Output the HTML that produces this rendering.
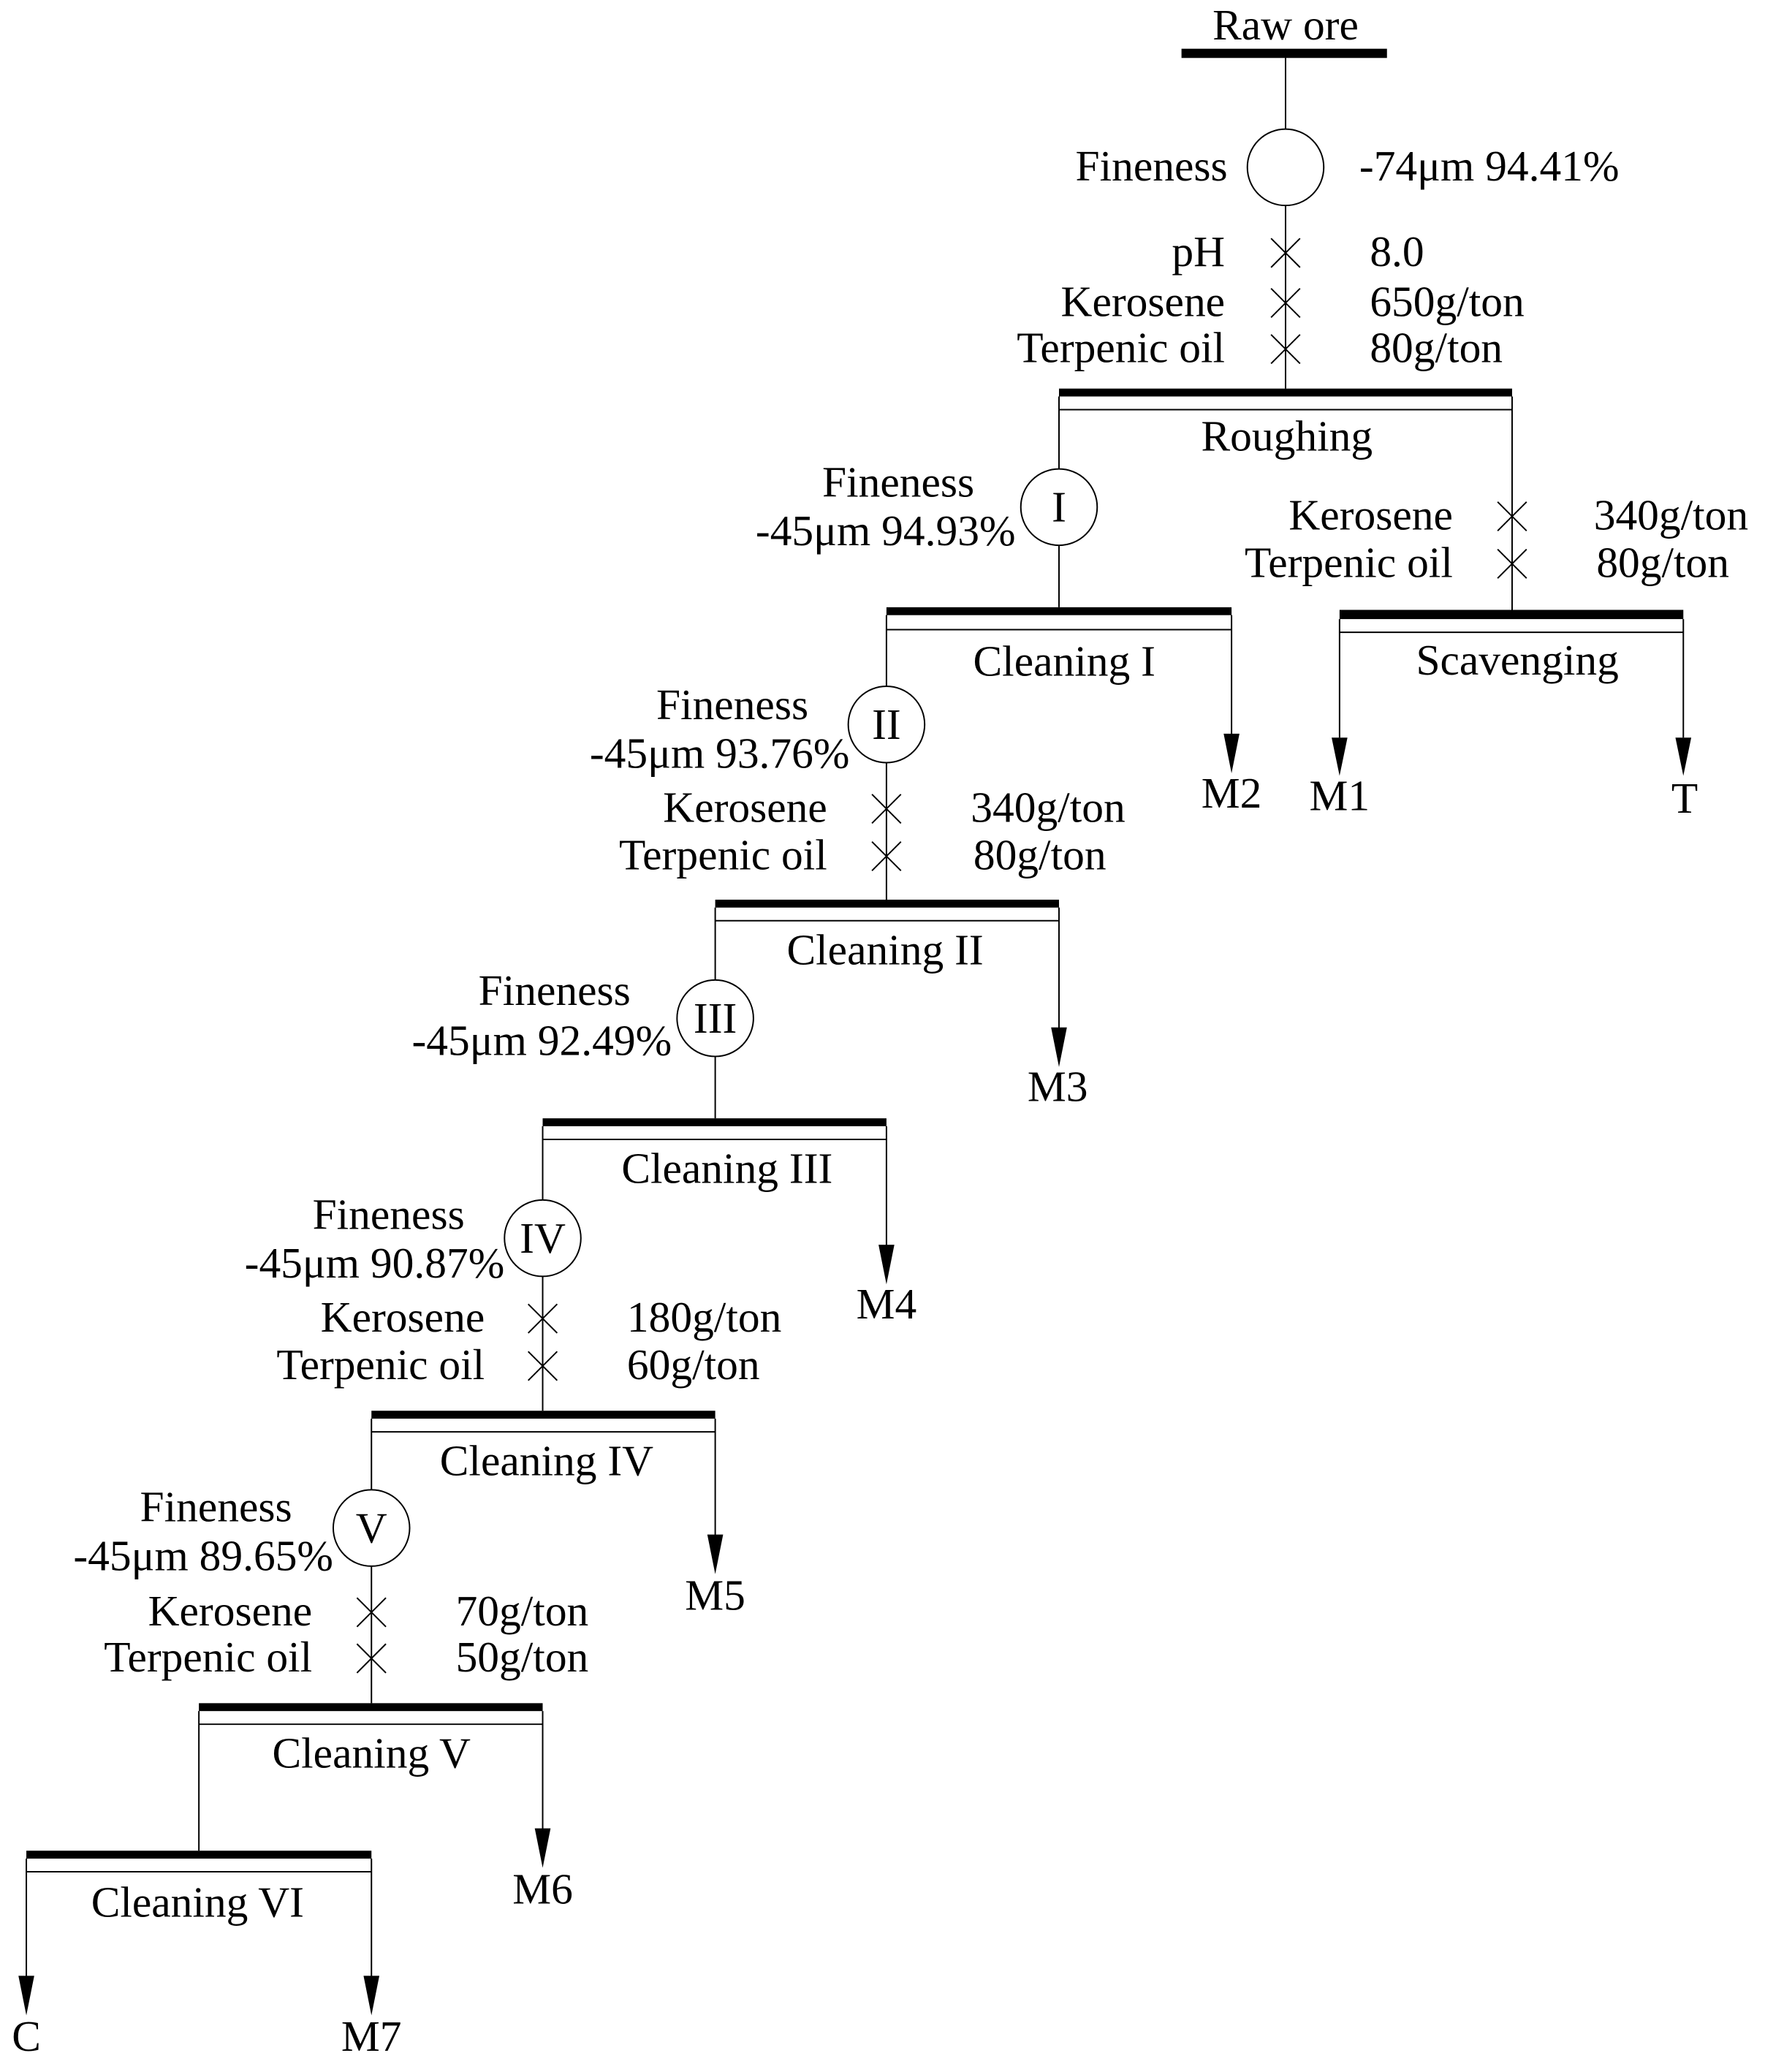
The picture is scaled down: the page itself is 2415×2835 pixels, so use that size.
<!DOCTYPE html>
<html><head><meta charset="utf-8"><style>
html,body{margin:0;padding:0;background:#fff;}
svg{display:block;}
text{font-family:"Liberation Serif",serif;font-size:33px;fill:#000;}
.e{text-anchor:end}.m{text-anchor:middle}
</style></head><body>
<svg width="2415" height="2835" viewBox="0 0 1340 1573" preserveAspectRatio="none" xmlns="http://www.w3.org/2000/svg">
<g stroke="#000" stroke-width="1.1" fill="none">
<line x1="976" y1="44" x2="976" y2="98"/>
<circle cx="976" cy="127" r="29"/>
<line x1="976" y1="156" x2="976" y2="295"/>
<path d="M965 181l22 22M987 181l-22 22M965 219l22 22M987 219l-22 22M965 254l22 22M987 254l-22 22"/>
<line x1="804" y1="311" x2="1148" y2="311"/>
<line x1="804" y1="301" x2="804" y2="356"/>
<circle cx="804" cy="385" r="29"/>
<line x1="804" y1="414" x2="804" y2="461"/>
<line x1="1148" y1="301" x2="1148" y2="463"/>
<path d="M1137 381l22 22M1159 381l-22 22M1137 417l22 22M1159 417l-22 22"/>
<line x1="1017" y1="480" x2="1278" y2="480"/>
<line x1="1017" y1="470" x2="1017" y2="560"/>
<line x1="1278" y1="470" x2="1278" y2="560"/>
<line x1="673" y1="478" x2="935" y2="478"/>
<line x1="935" y1="467" x2="935" y2="560"/>
<line x1="673" y1="467" x2="673" y2="521"/>
<circle cx="673" cy="550" r="29"/>
<line x1="673" y1="579" x2="673" y2="683"/>
<path d="M662 603l22 22M684 603l-22 22M662 639l22 22M684 639l-22 22"/>
<line x1="543" y1="699" x2="804" y2="699"/>
<line x1="804" y1="689" x2="804" y2="783"/>
<line x1="543" y1="689" x2="543" y2="744"/>
<circle cx="543" cy="773" r="29"/>
<line x1="543" y1="802" x2="543" y2="849"/>
<line x1="412" y1="865" x2="673" y2="865"/>
<line x1="673" y1="855" x2="673" y2="948"/>
<line x1="412" y1="855" x2="412" y2="911"/>
<circle cx="412" cy="940" r="29"/>
<line x1="412" y1="969" x2="412" y2="1071"/>
<path d="M401 990l22 22M423 990l-22 22M401 1026l22 22M423 1026l-22 22"/>
<line x1="282" y1="1087" x2="543" y2="1087"/>
<line x1="543" y1="1077" x2="543" y2="1168"/>
<line x1="282" y1="1077" x2="282" y2="1131"/>
<circle cx="282" cy="1160" r="29"/>
<line x1="282" y1="1189" x2="282" y2="1293"/>
<path d="M271 1213l22 22M293 1213l-22 22M271 1248l22 22M293 1248l-22 22"/>
<line x1="151" y1="1309" x2="412" y2="1309"/>
<line x1="412" y1="1299" x2="412" y2="1391"/>
<line x1="151" y1="1299" x2="151" y2="1405"/>
<line x1="20" y1="1421" x2="282" y2="1421"/>
<line x1="20" y1="1411" x2="20" y2="1503"/>
<line x1="282" y1="1411" x2="282" y2="1503"/>
</g>
<g fill="#000">
<rect x="897" y="37" width="156" height="7"/>
<rect x="804" y="295" width="344" height="6"/>
<rect x="1017" y="463" width="261" height="7"/>
<rect x="673" y="461" width="262" height="6"/>
<rect x="543" y="683" width="261" height="6"/>
<rect x="412" y="849" width="261" height="6"/>
<rect x="282" y="1071" width="261" height="6"/>
<rect x="151" y="1293" width="261" height="6"/>
<rect x="20" y="1405" width="262" height="6"/>
<polygon points="929,557 941,557 935,587"/>
<polygon points="1011,560 1023,560 1017,589"/>
<polygon points="1272,560 1284,560 1278,589"/>
<polygon points="798,780 810,780 804,810"/>
<polygon points="667,945 679,945 673,975"/>
<polygon points="537,1165 549,1165 543,1195"/>
<polygon points="406,1388 418,1388 412,1418"/>
<polygon points="14,1500 26,1500 20,1530"/>
<polygon points="276,1500 288,1500 282,1530"/>
</g>
<text class="m" x="976" y="30">Raw ore</text>
<text class="e" x="932" y="137">Fineness</text>
<text x="1032" y="137">-74μm 94.41%</text>
<text class="e" x="930" y="202">pH</text><text x="1040" y="202">8.0</text>
<text class="e" x="930" y="240">Kerosene</text><text x="1040" y="240">650g/ton</text>
<text class="e" x="930" y="275">Terpenic oil</text><text x="1040" y="275">80g/ton</text>
<text class="m" x="977" y="342">Roughing</text>
<text class="m" x="682" y="377">Fineness</text>
<text class="e" x="771" y="414">-45μm 94.93%</text>
<text class="m" x="804" y="396">I</text>
<text class="e" x="1103" y="402">Kerosene</text><text x="1210" y="402">340g/ton</text>
<text class="e" x="1103" y="438">Terpenic oil</text><text x="1212" y="438">80g/ton</text>
<text class="m" x="1152" y="512">Scavenging</text>
<text class="m" x="808" y="513">Cleaning  I</text>
<text class="m" x="935" y="613">M2</text>
<text class="m" x="1017" y="615">M1</text>
<text class="m" x="1279" y="617">T</text>
<text class="m" x="556" y="546">Fineness</text>
<text class="e" x="645" y="583">-45μm 93.76%</text>
<text class="m" x="673" y="561">II</text>
<text class="e" x="628" y="624">Kerosene</text><text x="737" y="624">340g/ton</text>
<text class="e" x="628" y="660">Terpenic oil</text><text x="739" y="660">80g/ton</text>
<text class="m" x="672" y="732">Cleaning  II</text>
<text class="m" x="803" y="836">M3</text>
<text class="m" x="421" y="763">Fineness</text>
<text class="e" x="510" y="801">-45μm 92.49%</text>
<text class="m" x="543" y="784">III</text>
<text class="m" x="552" y="898">Cleaning  III</text>
<text class="m" x="673" y="1001">M4</text>
<text class="m" x="295" y="933">Fineness</text>
<text class="e" x="383" y="970">-45μm 90.87%</text>
<text class="m" x="412" y="951">IV</text>
<text class="e" x="368" y="1011">Kerosene</text><text x="476" y="1011">180g/ton</text>
<text class="e" x="368" y="1047">Terpenic oil</text><text x="476" y="1047">60g/ton</text>
<text class="m" x="415" y="1120">Cleaning  IV</text>
<text class="m" x="543" y="1222">M5</text>
<text class="m" x="164" y="1155">Fineness</text>
<text class="e" x="253" y="1192">-45μm 89.65%</text>
<text class="m" x="282" y="1171">V</text>
<text class="e" x="237" y="1234">Kerosene</text><text x="346" y="1234">70g/ton</text>
<text class="e" x="237" y="1269">Terpenic oil</text><text x="346" y="1269">50g/ton</text>
<text class="m" x="282" y="1342">Cleaning  V</text>
<text class="m" x="412" y="1445">M6</text>
<text class="m" x="150" y="1455">Cleaning  VI</text>
<text class="m" x="20" y="1557">C</text>
<text class="m" x="282" y="1557">M7</text>
</svg>
</body></html>
